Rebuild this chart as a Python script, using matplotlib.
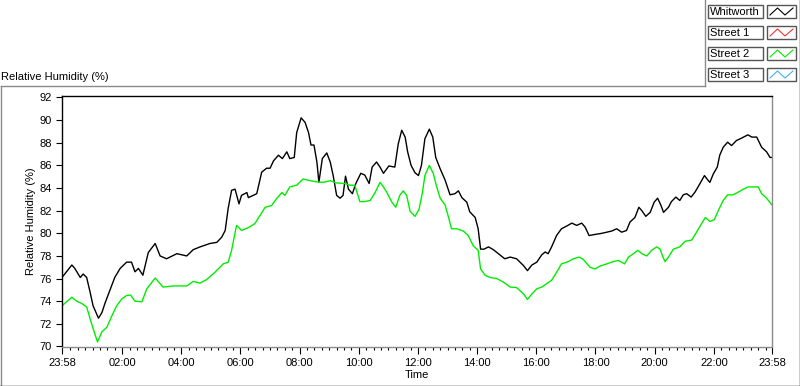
import matplotlib
matplotlib.use("Agg")
import matplotlib.pyplot as plt
from matplotlib.lines import Line2D
from matplotlib.patches import Rectangle

plt.rcParams["font.family"] = ["Liberation Sans", "DejaVu Sans"]

# Whitworth (black) - minutes after 23:58, relative humidity (%)
whit_min = [0, 20, 26, 37, 43, 50, 57, 63, 74, 81, 87, 97, 107, 118, 131, 141, 148, 155, 164,
            175, 189, 199, 212, 233, 253, 266, 280, 300, 314, 324, 331, 337, 344, 351, 359,
            364, 375, 378, 395, 405, 415, 422, 429, 439, 447, 456, 462, 471, 476, 485, 493,
            500, 505, 511, 517, 521, 528, 537, 544, 550, 557, 564, 570, 575, 581, 589, 596,
            606, 614, 623, 629, 638, 645, 652, 663, 675, 682, 689, 696, 701, 708, 716, 723,
            729, 736, 745, 752, 758, 767, 777, 787, 797, 804, 811, 821, 827, 838, 844, 849,
            856, 865, 875, 885, 898, 909, 922, 936, 944, 953, 963, 973, 980, 986, 993, 1003,
            1013, 1024, 1034, 1044, 1054, 1061, 1069, 1081, 1095, 1105, 1115, 1125, 1135,
            1145, 1152, 1162, 1170, 1176, 1184, 1193, 1201, 1208, 1215, 1220, 1230, 1236,
            1245, 1253, 1260, 1267, 1276, 1284, 1294, 1303, 1310, 1314, 1321, 1329, 1334,
            1341, 1350, 1358, 1368, 1378, 1391, 1399, 1409, 1419, 1429, 1436, 1440]
whit_rh = [76.1, 77.2, 76.9, 76.1, 76.4, 76.1, 74.8, 73.6, 72.5, 73.0, 73.8, 74.95, 76.1, 76.9,
           77.45, 77.45, 76.6, 76.9, 76.3, 78.3, 79.1, 78.0, 77.75, 78.2, 78.0, 78.55, 78.8,
           79.1, 79.2, 79.66, 80.25, 82.2, 83.8, 83.9, 82.6, 83.35, 83.6, 83.15, 83.5, 85.4,
           85.75, 85.75, 86.4, 86.9, 86.6, 87.2, 86.6, 86.7, 88.9, 90.2, 89.8, 88.9, 87.8,
           87.8, 86.3, 84.5, 86.6, 87.1, 86.3, 85.1, 83.35, 83.1, 83.35, 85.05, 83.9, 83.5,
           84.4, 85.3, 85.15, 84.4, 85.85, 86.3, 85.85, 85.3, 85.95, 85.85, 87.9, 89.1, 88.5,
           87.2, 86.0, 85.35, 85.1, 86.0, 88.35, 89.2, 88.5, 86.7, 85.7, 84.7, 83.4, 83.5,
           83.75, 83.15, 82.75, 81.9, 81.4, 80.4, 78.6, 78.6, 78.8, 78.55, 78.2, 77.75, 77.9,
           77.75, 77.15, 76.7, 77.2, 77.45, 78.1, 78.35, 78.2, 78.8, 79.8, 80.4, 80.65, 80.9,
           80.7, 80.9, 80.55, 79.8, 79.9, 80.0, 80.1, 80.2, 80.4, 80.1, 80.25, 81.0, 81.4,
           82.3, 82.0, 81.5, 81.85, 82.75, 83.1, 82.45, 81.85, 82.3, 82.8, 83.2, 82.9, 83.4,
           83.5, 83.2, 83.65, 84.4, 85.1, 84.7, 84.5, 85.25, 85.85, 86.9, 87.6, 88.05, 87.75,
           88.2, 88.4, 88.7, 88.5, 88.5, 87.6, 87.2, 86.7, 86.7]

# Street 2 (green)
st2_min = [0, 20, 30, 40, 50, 57, 63, 72, 81, 91, 101, 111, 121, 131, 139, 148, 162, 172, 189,
           205, 226, 253, 266, 280, 293, 310, 327, 337, 344, 354, 361, 364, 378, 391, 402, 412,
           425, 435, 446, 452, 462, 476, 489, 503, 517, 530, 544, 557, 574, 584, 594, 604, 614,
           625, 635, 645, 652, 659, 669, 677, 685, 692, 699, 706, 716, 724, 731, 736, 745, 753,
           760, 767, 777, 784, 790, 801, 814, 824, 834, 844, 849, 858, 868, 882, 895, 909, 922,
           936, 944, 953, 963, 973, 983, 993, 1003, 1013, 1027, 1037, 1049, 1057, 1071, 1081,
           1091, 1105, 1118, 1129, 1141, 1149, 1159, 1168, 1176, 1186, 1196, 1206, 1213, 1218,
           1223, 1230, 1240, 1253, 1264, 1277, 1287, 1297, 1305, 1314, 1323, 1331, 1341, 1350,
           1361, 1372, 1382, 1392, 1402, 1412, 1419, 1429, 1438, 1440]
st2_rh = [73.6, 74.35, 74.0, 73.8, 73.5, 72.45, 71.6, 70.4, 71.3, 71.7, 72.7, 73.6, 74.2, 74.5,
          74.55, 74.0, 73.95, 75.1, 76.05, 75.25, 75.35, 75.35, 75.75, 75.6, 75.9, 76.55, 77.3,
          77.45, 78.5, 80.7, 80.4, 80.25, 80.5, 80.85, 81.6, 82.3, 82.45, 83.05, 83.6, 83.35,
          84.1, 84.25, 84.8, 84.65, 84.55, 84.5, 84.65, 84.45, 84.4, 84.25, 84.25, 82.8, 82.8,
          82.9, 83.6, 84.5, 84.1, 83.6, 82.75, 82.3, 83.35, 83.75, 83.35, 81.95, 81.5, 82.1,
          83.6, 85.1, 86.0, 85.3, 84.1, 83.1, 82.5, 81.4, 80.4, 80.4, 80.2, 79.8, 78.9, 78.5,
          76.85, 76.3, 76.1, 76.0, 75.7, 75.25, 75.2, 74.65, 74.15, 74.65, 75.1, 75.25, 75.55,
          75.85, 76.55, 77.3, 77.5, 77.75, 77.9, 77.7, 77.0, 76.85, 77.1, 77.3, 77.5, 77.6,
          77.3, 77.9, 78.2, 78.5, 78.2, 78.0, 78.5, 78.8, 78.6, 78.0, 77.5, 77.9, 78.6, 78.8,
          79.3, 79.4, 80.1, 80.85, 81.4, 81.05, 81.2, 82.0, 82.9, 83.4, 83.4, 83.65, 83.9, 84.1,
          84.1, 84.1, 83.5, 83.1, 82.6, 82.5]

legend_names = ["Whitworth", "Street 1", "Street 2", "Street 3"]
legend_colors = ["#000000", "#ff3030", "#00ee00", "#40b0ff"]

start_clock = 23 * 60 + 58  # 23:58
span = 1440

W, H = 800, 386


def fx(px):
    return px / W


def fy(py):
    return 1 - py / H


fig = plt.figure(figsize=(8, 3.86), dpi=100)
fig.patch.set_facecolor("white")

ax = fig.add_axes([fx(62), fy(346.5), fx(772) - fx(62), fy(96) - fy(346.5)])
ax.plot(whit_min, whit_rh, color="black", lw=1.0)
ax.plot(st2_min, st2_rh, color="#00ee00", lw=1.0)

ax.set_xlim(0, span)
ax.set_ylim(70, 92.13)

# x ticks: clock hours every 2h (not too close to the ends) plus the end points
inner = [m for m in range(10, span - 10) if (start_clock + m) % 120 == 0]
majors = [0] + inner + [span]
labels = []
for m in majors:
    t = (start_clock + m) % 1440
    labels.append("%02d:%02d" % (t // 60, t % 60))
minors = [m for m in range(5, span - 4) if (start_clock + m) % 15 == 0 and m not in majors]
ax.set_xticks(majors)
ax.set_xticklabels(labels)
ax.set_xticks(minors, minor=True)
ax.set_yticks(range(70, 93, 2))

ax.tick_params(axis="x", which="major", length=5, width=0.8, pad=3, labelsize=8, direction="out")
ax.tick_params(axis="x", which="minor", length=2.5, width=0.8, direction="out")
ax.tick_params(axis="y", which="major", length=4, width=0.8, pad=3.5, labelsize=8, direction="out")

for s in ["left", "top"]:
    ax.spines[s].set_color("black")
    ax.spines[s].set_linewidth(1.0)
for s in ["right", "bottom"]:
    ax.spines[s].set_color("#8a8a8a")
    ax.spines[s].set_linewidth(1.0)

ax.set_xlabel("Time", fontsize=8, labelpad=2)
ax.set_ylabel("Relative Humidity (%)", fontsize=8, labelpad=2)

fig.text(fx(1), fy(77), "Relative Humidity (%)", fontsize=8, ha="left", va="center")

# outer frame of the graph
fig.add_artist(Line2D([fx(0.5), fx(705)], [fy(86), fy(86)], color="#8a8a8a", lw=1))
fig.add_artist(Line2D([fx(0.5), fx(0.5)], [fy(86), fy(386)], color="#8a8a8a", lw=1))
fig.add_artist(Line2D([fx(0), fx(800)], [fy(385.5), fy(385.5)], color="black", lw=1))
fig.add_artist(Line2D([fx(799.5), fx(799.5)], [fy(0), fy(386)], color="black", lw=1))
fig.add_artist(Line2D([fx(705), fx(705)], [fy(0), fy(86)], color="#8a8a8a", lw=1))

# legend
row_top = [5, 26, 47, 68]
for name, col, top in zip(legend_names, legend_colors, row_top):
    fig.add_artist(Rectangle((fx(708), fy(top + 13)), fx(763) - fx(708), fy(top) - fy(top + 13),
                             fill=False, edgecolor="#555555", lw=1))
    fig.text(fx(710), fy(top + 6.8), name, fontsize=8, ha="left", va="center")
    fig.add_artist(Rectangle((fx(767), fy(top + 13)), fx(796) - fx(767), fy(top) - fy(top + 13),
                             fill=False, edgecolor="#555555", lw=1))
    sx = [770, 777.5, 785, 793]
    sy = [top + 10, top + 3, top + 10, top + 3]
    fig.add_artist(Line2D([fx(v) for v in sx], [fy(v) for v in sy], color=col, lw=0.8))

fig.savefig("out.png", dpi=100)
